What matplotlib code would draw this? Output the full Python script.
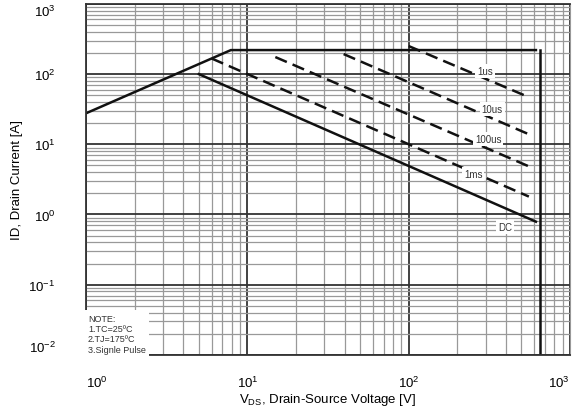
import matplotlib
matplotlib.use("Agg")
import matplotlib.pyplot as plt
from matplotlib.ticker import LogLocator, NullFormatter

plt.rcParams['font.family'] = ['Liberation Sans', 'DejaVu Sans']
plt.rcParams['mathtext.fontset'] = 'custom'
plt.rcParams['mathtext.rm'] = 'Liberation Sans'

# limit lines (VDS [V], ID [A])
limit_v = [1, 7.9, 615]
limit_i = [27.7, 220, 220]
vmax_v = [650, 650]
vmax_i = [220, 0.01]
dc_v = [5.0, 615]
dc_i = [100, 0.79]

# pulse lines (start / end)
pulse_names = ["1us", "10us", "100us", "1ms"]
pulse_v = [[100, 556], [39.5, 556], [14.9, 556], [6.0, 556]]
pulse_i = [[251, 46.9], [193, 13.9], [175, 4.85], [167, 1.8]]
pulse_lbl_v = [298, 329, 311, 251]
pulse_lbl_i = [111, 31.7, 11.9, 3.76]
dc_lbl = (396, 0.66)

xticks = [1, 10, 100, 1000]
xtick_labels = ["$10^{0}$", "$10^{1}$", "$10^{2}$", "$10^{3}$"]
yticks = [0.01, 0.1, 1, 10, 100, 1000]
ytick_labels = ["$10^{-2}$", "$10^{-1}$", "$10^{0}$", "$10^{1}$", "$10^{2}$", "$10^{3}$"]

note_lines = ["NOTE:", "1.TC=25ºC", "2.TJ=175ºC", "3.Signle Pulse"]

fig = plt.figure(figsize=(5.74, 4.10), dpi=100)
ax = fig.add_axes([0.150, 0.132, 0.843, 0.856])
ax.set_xscale('log')
ax.set_yscale('log')
ax.set_xlim(1, 1000)
ax.set_ylim(0.01, 1000)

ax.set_xticks(xticks, xtick_labels)
ax.set_yticks(yticks, ytick_labels)
ax.xaxis.set_minor_locator(LogLocator(base=10, subs=range(2, 10)))
ax.yaxis.set_minor_locator(LogLocator(base=10, subs=range(2, 10)))
ax.xaxis.set_minor_formatter(NullFormatter())
ax.yaxis.set_minor_formatter(NullFormatter())
ax.grid(which='major', color='#333333', linewidth=1.3)
ax.grid(which='minor', color='#999999', linewidth=0.9)
ax.set_axisbelow(True)
ax.tick_params(which='both', length=0)
ax.tick_params(axis='x', pad=14, labelsize=9.5)
ax.tick_params(axis='y', pad=22, labelsize=9.5)
for s in ['left', 'top', 'bottom']:
    ax.spines[s].set_color('#333333')
    ax.spines[s].set_linewidth(1.3)
ax.spines['right'].set_color('#999999')

xl = ax.get_xticklabels()
xl[-1].set_horizontalalignment('right')
xl[0].set_horizontalalignment('left')
yl = ax.get_yticklabels()
yl[-1].set_verticalalignment('top')
yl[0].set_verticalalignment('bottom')

ax.plot(limit_v, limit_i, color='#111111', lw=1.8)
ax.plot(vmax_v, vmax_i, color='#111111', lw=1.8)
ax.plot(dc_v, dc_i, color='#111111', lw=1.8)
for v, i in zip(pulse_v, pulse_i):
    ax.plot(v, i, color='#111111', lw=1.8, dashes=(5, 2.5))

box = dict(facecolor='white', edgecolor='none', pad=1.5)
for name, x, y in zip(pulse_names, pulse_lbl_v, pulse_lbl_i):
    ax.text(x, y, name, fontsize=7, ha='center', va='center', color='#333333',
            bbox=box, zorder=5)
ax.text(dc_lbl[0], dc_lbl[1], "DC", fontsize=7, ha='center', va='center',
        color='#333333', bbox=box, zorder=5)

ax.text(0.004, 0.003, "\n".join(note_lines), transform=ax.transAxes,
        fontsize=6.5, ha='left', va='bottom', color='#333333', linespacing=1.2,
        bbox=dict(facecolor='white', edgecolor='none', pad=2.5), zorder=5)

ax.set_xlabel("V$_{\\mathrm{DS}}$, Drain-Source Voltage [V]", fontsize=9.5, labelpad=1)
ax.set_ylabel("ID, Drain Current [A]", fontsize=9.5, labelpad=4)

fig.savefig("out.png", dpi=100)
